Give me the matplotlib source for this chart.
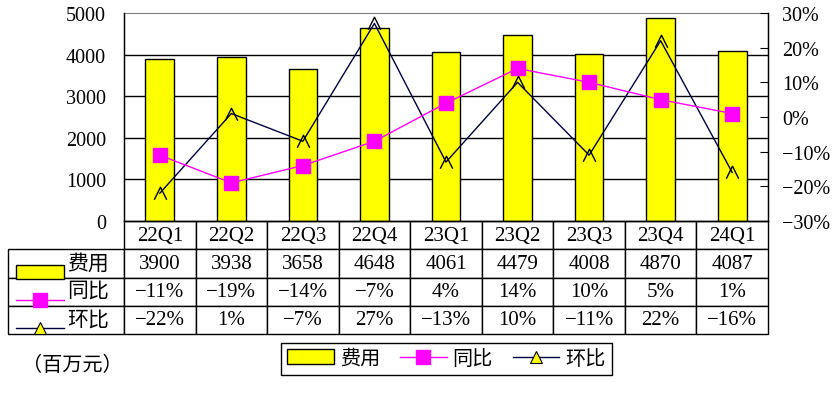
import matplotlib
matplotlib.use('Agg')
import matplotlib.pyplot as plt
from matplotlib.lines import Line2D
from matplotlib.patches import Rectangle
from matplotlib.path import Path
from matplotlib.ticker import FuncFormatter

plt.rcParams['font.family'] = ['Liberation Serif', 'Noto Sans CJK SC']
plt.rcParams['font.size'] = 14.5

# data
quarters = ['22Q1', '22Q2', '22Q3', '22Q4', '23Q1', '23Q2', '23Q3', '23Q4', '24Q1']
cost = [3900, 3938, 3658, 4648, 4061, 4479, 4008, 4870, 4087]
yoy = [-11, -19, -14, -7, 4, 14, 10, 5, 1]
qoq = [-22, 1, -7, 27, -13, 10, -11, 22, -16]
series_names = ['费用', '同比', '环比']
unit_label = '（百万元）'

W, H = 835, 402
BAR_C = '#FFFF00'
YOY_C = '#FF00FF'
QOQ_C = '#000040'


def pct(v):
    return f'{v:.0f}%'.replace('-', '\u2212')


def fx(px):
    return px / W


def fy(py):
    return 1 - py / H


fig = plt.figure(figsize=(W / 100, H / 100), dpi=100)
ax = fig.add_axes([fx(124), fy(222), 644 / W, 208 / H])

x = list(range(len(quarters)))
ax.bar(x, cost, width=0.4, color=BAR_C, edgecolor='black', linewidth=1, zorder=2)
ax.set_xlim(-0.5, len(quarters) - 0.5)
ax.set_ylim(0, 5000)
ax.set_yticks(range(0, 5001, 1000))
ax.set_xticks([])
ax.tick_params(axis='y', length=0, pad=13)
for g in range(1000, 5000, 1000):
    ax.axhline(g, color='black', lw=1, zorder=1)
for s in ['left', 'bottom', 'right']:
    ax.spines[s].set_color('black')
    ax.spines[s].set_linewidth(1)
ax.spines['top'].set_color('#808080')

ax2 = ax.twinx()
ax2.set_ylim(-30, 30)
ax2.set_yticks(range(-30, 31, 10))
ax2.yaxis.set_major_formatter(FuncFormatter(lambda v, p: pct(v)))
ax2.tick_params(axis='y', direction='in', length=6, pad=10)
ax2.spines['top'].set_visible(False)

caret = Path([(-1, -1), (0, 1), (1, -1)], [Path.MOVETO, Path.LINETO, Path.LINETO])
ax2.plot(x, qoq, color=QOQ_C, lw=1, marker=caret, ms=9,
         mfc='none', mec='black', mew=1, zorder=3)
ax2.plot(x, yoy, color=YOY_C, lw=1, marker='s', ms=10,
         mfc=YOY_C, mec=YOY_C, zorder=4)

# data table under the chart (bbox covers the data grid only)
cell_text = [[str(v) for v in cost], [pct(v) for v in yoy], [pct(v) for v in qoq]]
tab = ax.table(cellText=cell_text, colLabels=quarters, cellLoc='center',
               bbox=[0, -(335 - 222) / 208, 1, 113 / 208])
row_h = tab[1, 0].get_height()
for i, name in enumerate(series_names):
    c = tab.add_cell(i + 1, -1, width=116 / 644, height=row_h, text=name, loc='right')
    c.PAD = 0.13
tab.auto_set_font_size(False)
tab.set_fontsize(15)
for cell in tab.get_celld().values():
    cell.set_linewidth(1)
    cell.set_edgecolor('black')

# legend keys inside the row label cells
fig.add_artist(Rectangle((fx(16), fy(280)), 48 / W, 14 / H, transform=fig.transFigure,
                         facecolor=BAR_C, edgecolor='black', lw=1))
fig.add_artist(Line2D([fx(16), fx(40), fx(64)], [fy(301)] * 3, transform=fig.transFigure,
                      color=YOY_C, lw=1, marker='s', ms=10, mfc=YOY_C, mec=YOY_C,
                      markevery=[1]))
fig.add_artist(Line2D([fx(16), fx(40), fx(64)], [fy(329)] * 3, transform=fig.transFigure,
                      color=QOQ_C, lw=1, marker='^', ms=9, mfc=BAR_C, mec='black',
                      mew=0.8, markevery=[1]))

handles = [
    Rectangle((0, 0), 1, 1, facecolor=BAR_C, edgecolor='black', lw=1),
    Line2D([], [], color=YOY_C, lw=1, marker='s', ms=10, mfc=YOY_C, mec=YOY_C),
    Line2D([], [], color=QOQ_C, lw=1, marker='^', ms=9, mfc=BAR_C, mec='black', mew=0.8),
]
leg = fig.legend(handles=handles, labels=series_names, ncol=3, loc='center',
                 bbox_to_anchor=(fx((282 + 611) / 2), fy(360)), frameon=True,
                 fancybox=False, edgecolor='black', framealpha=1,
                 handlelength=2.3, handletextpad=0.3, columnspacing=1.0,
                 borderpad=0.3)
leg.get_frame().set_linewidth(1)

fig.text(fx(22), fy(366), unit_label, ha='left', va='center', fontsize=14.5)

fig.savefig('out.png', dpi=100)
